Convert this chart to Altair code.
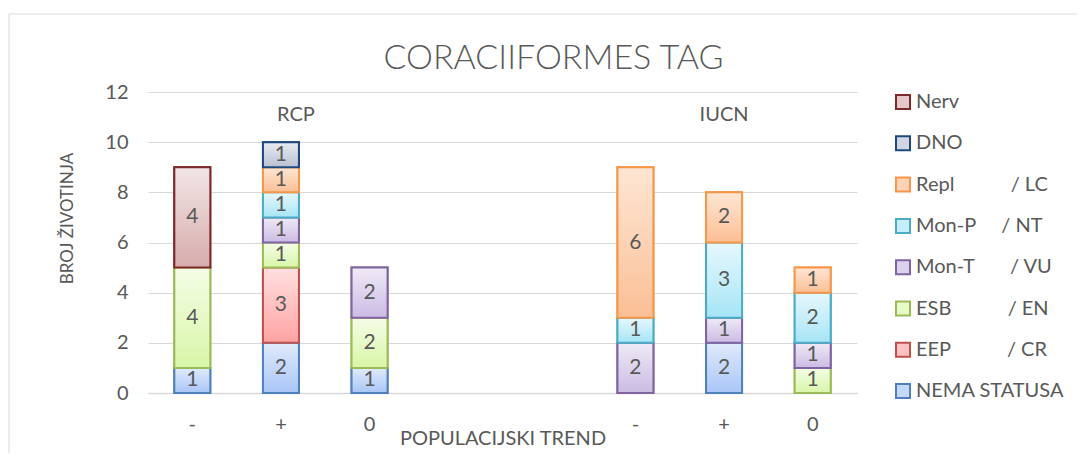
import altair as alt
import pandas as pd

FONT = "Lato"
TXT = "#595959"

# ---------------- data ----------------
categories = ["R-", "R+", "R0", "gap1", "gap2", "I-", "I+", "I0"]
category_labels = ["-", "+", "0", "", "", "-", "+", "0"]
bar_categories = ["R-", "R+", "R0", "I-", "I+", "I0"]

# bottom -> top stacking order
series_names = ["NEMA STATUSA", "EEP / CR", "ESB / EN", "Mon-T / VU",
                "Mon-P / NT", "Repl / LC", "DNO", "Nerv"]
NB = "\u00a0"
legend_labels = ["NEMA STATUSA",
                 "EEP" + NB * 11 + "/ CR",
                 "ESB" + NB * 11 + "/ EN",
                 "Mon-T" + NB * 7 + "/ VU",
                 "Mon-P" + NB * 5 + "/ NT",
                 "Repl" + NB * 11 + "/ LC",
                 "DNO",
                 "Nerv"]

values_nema = [1, 2, 1, 0, 2, 0]
values_eep = [0, 3, 0, 0, 0, 0]
values_esb = [4, 1, 2, 0, 0, 1]
values_mont = [0, 1, 2, 2, 1, 1]
values_monp = [0, 1, 0, 1, 3, 2]
values_repl = [0, 1, 0, 6, 2, 1]
values_dno = [0, 1, 0, 0, 0, 0]
values_nerv = [4, 0, 0, 0, 0, 0]
all_values = [values_nema, values_eep, values_esb, values_mont,
              values_monp, values_repl, values_dno, values_nerv]

group_labels = ["RCP", "IUCN"]
group_label_categories = ["R+", "I+"]
group_label_y = [11.1, 11.1]

# colours: gradient top, gradient bottom, border
grad_top = ["#e0eafb", "#ffe0e0", "#f5fde6", "#efeaf6", "#e6f8fd", "#fee6d4", "#e8ebf1", "#f2e6e6"]
grad_bot = ["#a9c6f8", "#ffa2a2", "#d8f6a8", "#cbbbe4", "#a6e5f6", "#fbbf95", "#b8c1d4", "#d8acac"]
mid_fill = ["#c4d8f9", "#ffc2c2", "#e6fac7", "#ddd2ed", "#c6eef9", "#fcd3b4", "#d0d6e2", "#e5c9c9"]
border = ["#4f81bd", "#c0504d", "#9bbb59", "#8064a2", "#4bacc6", "#f79646", "#1f497d", "#7f2a2a"]

rows = []
for si, (lab, vals) in enumerate(zip(legend_labels, all_values)):
    for ci, cat in enumerate(bar_categories):
        if vals[ci] > 0:
            rows.append({"cat": cat, "series": lab, "order": si, "value": vals[ci]})
df = pd.DataFrame(rows)

grp = pd.DataFrame({"cat": group_label_categories, "label": group_labels, "y": group_label_y})

label_map = "{" + ",".join(f"'{c}':'{l}'" for c, l in zip(categories, category_labels)) + "}"

x_enc = alt.X("cat:N", scale=alt.Scale(domain=categories, paddingInner=0.594, paddingOuter=0.297),
              axis=alt.Axis(title="POPULACIJSKI TREND", labelExpr=f"{label_map}[datum.value]",
                            labelAngle=0, ticks=False, domainColor="#d9d9d9", domainWidth=1.5,
                            labelPadding=21, titleY=45, titleBaseline="middle", grid=False))
y_scale = alt.Scale(domain=[0, 12], nice=False)

base = alt.Chart(df).transform_stack(
    stack="value", groupby=["cat"], as_=["y0", "y1"],
    sort=[alt.SortField("order", order="ascending")])

legend_domain = list(reversed(legend_labels))
solid = base.mark_bar(strokeWidth=2).encode(
    x=x_enc,
    y=alt.Y("y0:Q", scale=y_scale,
            axis=alt.Axis(title="BROJ ŽIVOTINJA", values=list(range(0, 13, 2)), ticks=False,
                          domain=False, gridColor="#d9d9d9", labelPadding=20,
                          titleFontSize=17, titleX=-81, titleY=126,
                          titleBaseline="middle", titleAlign="center")),
    y2="y1:Q",
    fill=alt.Fill("series:N", scale=alt.Scale(domain=legend_domain, range=list(reversed(mid_fill))),
                  legend=alt.Legend(title=None, orient="none", legendX=745, legendY=0,
                                    symbolType="square", symbolSize=196, symbolStrokeWidth=2,
                                    labelFontSize=20, labelFont=FONT, labelColor=TXT,
                                    rowPadding=19.3, labelOffset=3, padding=0, labelLimit=300)),
    stroke=alt.Stroke("series:N", scale=alt.Scale(domain=legend_domain, range=list(reversed(border)))),
)

grad_layers = []
for si, lab in enumerate(legend_labels):
    g = alt.LinearGradient(gradient="linear",
                           stops=[alt.GradientStop(color=grad_top[si], offset=0),
                                  alt.GradientStop(color=grad_bot[si], offset=1)],
                           x1=0, x2=0, y1=0, y2=1)
    layer = base.transform_filter(alt.datum.series == lab).mark_bar(
        fill=g, stroke=border[si], strokeWidth=2).encode(x=x_enc, y=alt.Y("y0:Q", scale=y_scale), y2="y1:Q")
    grad_layers.append(layer)

labels = base.transform_calculate(mid="(datum.y0 + datum.y1) / 2").mark_text(
    fontSize=21, font=FONT, color=TXT, baseline="middle").encode(
    x=x_enc, y=alt.Y("mid:Q", scale=y_scale), text="value:Q")

group_layers = []
for lab, shift in zip(group_labels, [15, 0]):
    group_layers.append(
        alt.Chart(grp).transform_filter(alt.datum.label == lab).mark_text(
            fontSize=20, font=FONT, color=TXT, baseline="middle", dx=shift).encode(
            x=x_enc, y=alt.Y("y:Q", scale=y_scale), text="label:N"))

frame = alt.Chart(pd.DataFrame({"k": [0]})).mark_rect(
    fillOpacity=0, stroke="#d9d9d9", strokeWidth=1).encode(
    x=alt.value(-139), x2=alt.value(1400), y=alt.value(-78), y2=alt.value(900))

chart = alt.layer(frame, solid, *grad_layers, labels, *group_layers).properties(
    width=709, height=301,
    title=alt.TitleParams("CORACIIFORMES TAG", fontSize=34, font=FONT, fontWeight=300,
                          color=TXT, anchor="middle", dx=51, offset=-62, frame="group"),
    autosize=alt.AutoSizeParams(type="none"),
    padding={"left": 140, "top": 84, "right": 220, "bottom": 60},
).configure_view(stroke=None).configure_axis(
    labelFont=FONT, labelFontSize=20, labelColor=TXT,
    titleFont=FONT, titleFontSize=20, titleColor=TXT, titleFontWeight="normal",
)

chart.save("out.html", embed_options={"renderer": "svg", "actions": False})
